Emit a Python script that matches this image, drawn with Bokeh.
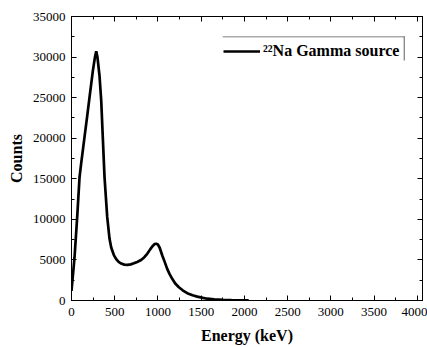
from bokeh.plotting import figure
from bokeh.models import (Range1d, SingleIntervalTicker, LinearAxis, Legend,
                          LegendItem, BoxAnnotation)
from bokeh.embed import file_html
from bokeh.resources import INLINE

# ---- data ----
energy_kev = [0, 35, 66, 93, 112, 131, 150, 180, 208, 247, 270, 286, 300, 324,
              344, 362, 382, 413, 440, 460, 490, 517, 545, 575, 610, 645, 685,
              721, 760, 799, 840, 876, 910, 934, 960, 980, 1000, 1020, 1050,
              1080, 1107, 1135, 1165, 1200, 1242, 1290, 1339, 1400, 1455, 1520,
              1570, 1650, 1750, 1850, 1950, 2050]
counts = [1200, 5300, 10300, 15200, 16900, 18500, 20100, 22600, 25000, 28300,
          29900, 30700, 30000, 27700, 24600, 20100, 15200, 10300, 7600, 6500,
          5600, 5100, 4750, 4550, 4420, 4400, 4450, 4580, 4750, 4950, 5300,
          5750, 6300, 6650, 6950, 7000, 6900, 6500, 5550, 4700, 3900, 3250,
          2670, 2100, 1640, 1230, 900, 640, 480, 320, 220, 130, 70, 40, 20, 10]
series_label = "\u00b2\u00b2Na Gamma source"
x_label = "Energy (keV)"
y_label = "Counts"

FONT = "Liberation Serif"

p = figure(width=427, height=347, output_backend="svg", toolbar_location=None,
           x_range=Range1d(0, 4060), y_range=Range1d(0, 35000),
           min_border_left=71, min_border_right=5, min_border_top=16,
           min_border_bottom=47, x_axis_location=None, y_axis_location=None)
p.grid.visible = False
p.outline_line_color = "black"
p.outline_line_width = 1
p.background_fill_color = "white"
p.border_fill_color = "white"

def make_axis(kind, show_labels):
    ticker = SingleIntervalTicker(interval=500 if kind == "x" else 5000,
                                  num_minor_ticks=2)
    ax = LinearAxis(ticker=ticker)
    ax.axis_line_color = "black"
    ax.major_tick_line_color = "black"
    ax.minor_tick_line_color = "black"
    ax.major_tick_in = 5
    ax.major_tick_out = 0
    ax.minor_tick_in = 3
    ax.minor_tick_out = 0
    ax.major_label_text_font = FONT
    ax.major_label_text_color = "black"
    ax.axis_label_text_font = FONT
    ax.axis_label_text_font_style = "bold"
    ax.axis_label_text_color = "black"
    ax.axis_label_text_font_size = "16px"
    if show_labels:
        ax.major_label_text_font_size = "13px"
    else:
        ax.major_label_text_font_size = "1px"
        ax.major_label_text_color = None
        ax.major_label_standoff = 0
    return ax

xb = make_axis("x", True)
xb.axis_label = x_label
xb.major_label_standoff = 7
xb.axis_label_standoff = 8
p.add_layout(xb, "below")

yl = make_axis("y", True)
yl.axis_label = y_label
yl.major_label_standoff = 6
yl.axis_label_standoff = 5
p.add_layout(yl, "left")

p.add_layout(make_axis("x", False), "above")
p.add_layout(make_axis("y", False), "right")

r = p.line(energy_kev, counts, line_color="black", line_width=2.7)

legend = Legend(items=[LegendItem(label=series_label, renderers=[r])],
                location=(147, 234))
legend.label_text_font = FONT
legend.label_text_font_style = "bold"
legend.label_text_font_size = "16px"
legend.label_text_color = "black"
legend.glyph_width = 37
legend.glyph_height = 20
legend.label_height = 20
legend.label_standoff = 3
legend.padding = 5
legend.margin = 0
legend.border_line_alpha = 0
legend.background_fill_alpha = 0
p.add_layout(legend, "center")

# partial legend frame (top and right edges only), as in the reference
frame_left, frame_right, frame_top, frame_bottom = 1748, 3854, 32550, 29590
p.add_layout(BoxAnnotation(left=frame_left, right=frame_right,
                           top=frame_top, bottom=frame_top - 110,
                           fill_color="#555555", fill_alpha=1,
                           line_alpha=0))
p.add_layout(BoxAnnotation(left=frame_right - 11, right=frame_right,
                           top=frame_top, bottom=frame_bottom,
                           fill_color="#555555", fill_alpha=1,
                           line_alpha=0))

open("out.html", "w").write(file_html(p, INLINE))
